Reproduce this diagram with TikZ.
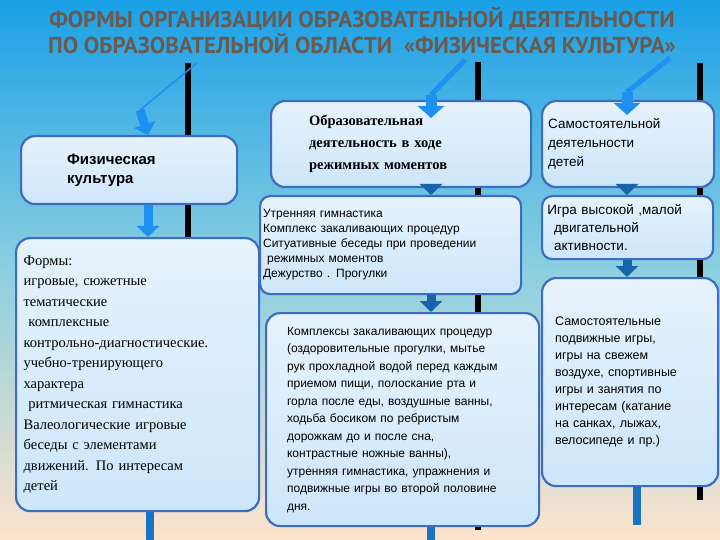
\documentclass[tikz,border=0pt]{standalone}
\usepackage{fontspec}
\setmainfont{Liberation Serif}
\setsansfont{Liberation Sans}
\newfontfamily\titlefont{PT Sans}
\usetikzlibrary{arrows.meta,positioning}
\definecolor{boxline}{HTML}{3D6CC0}
\definecolor{boxfill}{HTML}{CDE6FA}
\definecolor{arrowblue}{HTML}{1E90F0}
\definecolor{titlegray}{HTML}{6A5A50}
\definecolor{skytop}{HTML}{1AA0E6}
\definecolor{skymid}{HTML}{8CCFE0}
\definecolor{peach}{HTML}{FDE3CC}
\begin{document}
\begin{tikzpicture}[
    x=1pt, y=-1pt,
    panel/.style={rectangle, draw=boxline, line width=2.2pt, rounded corners=14pt, anchor=north west,
        top color=boxfill!50, bottom color=boxfill, inner sep=6pt, align=left},
    flow/.style={line width=9pt, draw=arrowblue, -{Triangle[width=22pt,length=11pt]}},
    pole/.style={line width=6pt, black},
    stub/.style={line width=8pt, draw=arrowblue!80!black}
]
% Fon
\shade[top color=skytop, bottom color=peach, middle color=skymid] (0,0) rectangle (720,540);
\useasboundingbox (0,0) rectangle (720,540);

% Zagolovok
\node[font=\titlefont\bfseries\fontsize{23}{26}\selectfont, text=titlegray, align=center] (title) at (362,31)
    {ФОРМЫ ОРГАНИЗАЦИИ ОБРАЗОВАТЕЛЬНОЙ ДЕЯТЕЛЬНОСТИ\\ПО ОБРАЗОВАТЕЛЬНОЙ ОБЛАСТИ \ «ФИЗИЧЕСКАЯ КУЛЬТУРА»};

% Stolby
\draw[pole] (188,63) -- (188,505);
\draw[pole] (478,62) -- (478,530);
\draw[pole] (700,63) -- (700,500);
\draw[stub] (150,495) -- (150,540);
\draw[stub] (431,505) -- (431,540);
\draw[stub] (637,480) -- (637,525);

% Bloki
\node[panel, minimum width=216pt, minimum height=68pt, font=\sffamily\bfseries\fontsize{15}{19}\selectfont, text width=200pt] (fk) at (20,135)
    {\hspace*{38pt}Физическая\\\hspace*{38pt}культура};
\node[panel, minimum width=243pt, minimum height=273pt, text width=228pt, font=\fontsize{14.5}{20.5}\selectfont, inner sep=5pt] (forms) at (15,237)
    {Формы:\\игровые, сюжетные\\тематические\\\ комплексные\\контрольно-диагностические.\\учебно-тренирующего\\характера\\\ ритмическая гимнастика\\Валеологические игровые\\беседы с элементами\\движений. По интересам\\детей};
\node[panel, minimum width=260pt, minimum height=86pt, text width=240pt, font=\bfseries\fontsize{14.5}{22}\selectfont] (rm) at (270,100)
    {\hspace*{28pt}Образовательная\\\hspace*{28pt}деятельность в ходе\\\hspace*{28pt}режимных моментов};
\node[panel, minimum width=261pt, minimum height=98pt, text width=255pt, inner sep=3pt, rounded corners=10pt, font=\sffamily\fontsize{12}{15}\selectfont] (morning) at (259,195)
    {Утренняя гимнастика\\Комплекс закаливающих процедур\\Ситуативные беседы при проведении\\\ режимных моментов\\Дежурство . Прогулки};
\node[panel, minimum width=273pt, minimum height=213pt, text width=255pt, inner sep=9pt, font=\sffamily\fontsize{12}{17.5}\selectfont] (harden) at (265,312)
    {\hspace*{12pt}Комплексы закаливающих процедур\\\hspace*{12pt}(оздоровительные прогулки, мытье\\\hspace*{12pt}рук прохладной водой перед каждым\\\hspace*{12pt}приемом пищи, полоскание рта и\\\hspace*{12pt}горла после еды, воздушные ванны,\\\hspace*{12pt}ходьба босиком по ребристым\\\hspace*{12pt}дорожкам до и после сна,\\\hspace*{12pt}контрастные ножные ванны),\\\hspace*{12pt}утренняя гимнастика, упражнения и\\\hspace*{12pt}подвижные игры во второй половине\\\hspace*{12pt}дня.};
\node[panel, minimum width=171pt, minimum height=86pt, text width=160pt, inner sep=6pt, font=\sffamily\fontsize{13.5}{19}\selectfont] (self) at (541,100)
    {Самостоятельной\\деятельности\\детей};
\node[panel, minimum width=171pt, minimum height=63pt, text width=165pt, inner sep=3pt, rounded corners=10pt, font=\sffamily\fontsize{13.5}{18}\selectfont] (games) at (541,195)
    {\,Игра высокой ,малой\\\ \ двигательной\\\ \ активности.};
\node[panel, minimum width=171pt, minimum height=208pt, text width=150pt, inner sep=13pt, font=\sffamily\fontsize{12.5}{17}\selectfont] (outdoor) at (541,277)
    {Самостоятельные\\подвижные игры,\\игры на свежем\\воздухе, спортивные\\игры и занятия по\\интересам (катание\\на санках, лыжах,\\велосипеде и пр.)};

% Strelki sverhu
\coordinate (top1) at (197,63);
\coordinate (bend1) at (140,110);
\coordinate (top2) at (465,60);
\coordinate (bend2) at (431,95);
\coordinate (top3) at (670,58);
\coordinate (bend3) at (627,92);
\draw[arrowblue, line width=1.5pt] (top1) -- (bend1);
\draw[flow] (bend1) -- ([xshift=128pt]fk.north west);
\draw[arrowblue, line width=5pt] (top2) -- (bend2);
\draw[flow, line width=11pt, -{Triangle[width=26pt,length=12pt]}] (bend2) -- (431,118);
\draw[arrowblue, line width=5pt] (top3) -- (bend3);
\draw[flow, line width=11pt, -{Triangle[width=26pt,length=12pt]}] (bend3) -- (627,115);

% Strelki mezhdu blokami
\draw[flow] ([xshift=128pt]fk.south west) -- ([xshift=133pt]forms.north west);
\draw[flow, draw=arrowblue!70!black] ([xshift=161pt]rm.south west) -- ([xshift=172pt]morning.north west);
\draw[flow, draw=arrowblue!70!black] ([xshift=172pt]morning.south west) -- ([xshift=166pt]harden.north west);
\draw[flow, draw=arrowblue!70!black] ([xshift=86pt]self.south west) -- ([xshift=86pt]games.north west);
\draw[flow, draw=arrowblue!70!black] ([xshift=86pt]games.south west) -- ([xshift=86pt]outdoor.north west);
\end{tikzpicture}
\end{document}
